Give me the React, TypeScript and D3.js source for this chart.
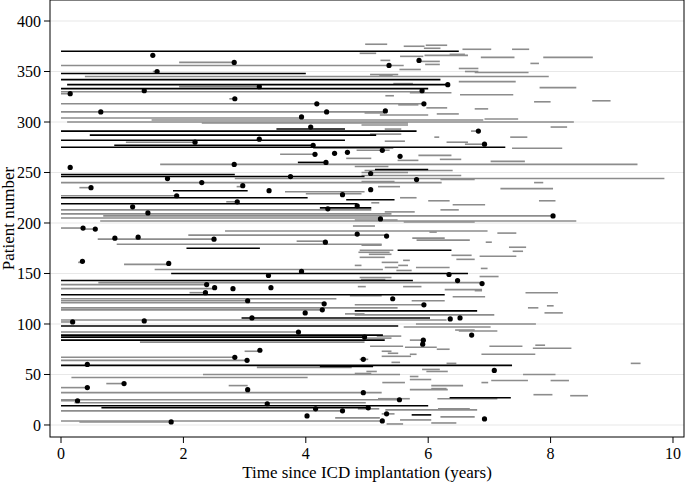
import React from "react";
import * as d3 from "d3";

// [patient, start (years), end (years)]
const blackSegs: number[][] = [
  [370, 0, 6.5], [348, 0, 4.0], [342, 0, 6.2], [337, 0.1, 6.32], [333, 0, 6.0],
  [293, 3.52, 4.64], [291, 0, 5.81], [287, 0.47, 5.15], [282, 0, 4.64], [277, 0.87, 4.12],
  [275, 0, 7.26], [260, 3.87, 4.33], [253, 5.13, 6.0], [248, 0, 2.84], [246, 0, 4.96],
  [232, 1.83, 3.05], [225, 0, 4.03], [223, 4.66, 5.45], [219, 0, 4.84], [215, 4.23, 5.07],
  [175, 2.05, 3.25], [173, 5.5, 6.38], [150, 1.8, 6.65], [143, 0, 5.75], [129, 0, 6.27],
  [113, 4.8, 6.8], [106, 2.95, 6.03], [98, 0, 5.51], [89, 0, 5.26], [87, 0, 4.96],
  [84, 0, 5.29], [59, 0, 7.37], [58, 4.23, 5.1], [27, 6.35, 7.35], [19, 0, 6.0],
  [17, 0.66, 5.02], [10, 5.73, 6.05],
];

const graySegs: number[][] = [
  [377, 4.97, 5.33], [376, 5.96, 6.31], [375, 5.6, 5.94], [373, 5.93, 6.2], [372, 6.56, 7.03],
  [372, 7.37, 7.65], [368, 4.88, 5.15], [367, 6.35, 6.6], [366, 5.94, 6.65], [365, 5.54, 5.92],
  [364, 6.86, 7.41], [364, 7.88, 8.69], [361, 5.22, 5.38], [360, 5.85, 6.19], [359, 1.93, 2.83],
  [358, 7.67, 7.81], [357, 5.95, 6.19], [356, 0, 5.6], [353, 6.5, 6.82], [352, 5.53, 5.88],
  [350, 1.5, 1.57], [350, 6.6, 6.82], [349, 6.76, 7.64], [347, 5.05, 5.51], [346, 5.2, 5.42],
  [345, 0.39, 7.97], [340, 6.5, 7.43], [338, 5.43, 5.75], [335, 1.93, 3.24], [334, 7.82, 8.42],
  [330, 0, 5.9], [329, 5.7, 6.38], [328, 0, 0.15], [327, 6.52, 7.39], [326, 5.3, 5.44],
  [323, 2.75, 2.84], [321, 8.68, 8.98], [320, 7.73, 8.0], [318, 0, 5.93], [317, 5.51, 5.84],
  [314, 5.97, 6.31], [313, 6.76, 6.98], [310, 0, 5.3], [309, 4.96, 5.29], [308, 6.14, 6.5],
  [307, 5.21, 6.0], [304, 0, 3.93], [303, 6.92, 7.47], [302, 1.48, 6.9], [300, 0.1, 8.38],
  [299, 2.3, 5.67], [297, 4.91, 5.67], [295, 8.0, 8.27], [293, 5.29, 5.56], [291, 6.7, 6.82],
  [288, 5.05, 5.56], [285, 6.1, 6.18], [285, 7.34, 7.62], [281, 5.29, 5.62], [280, 6.3, 6.65],
  [280, 1.06, 2.19], [278, 6.6, 6.92], [274, 4.12, 5.43], [274, 7.37, 8.19], [272, 4.83, 5.37],
  [268, 3.58, 4.15], [267, 5.84, 6.38], [264, 4.66, 5.07], [263, 6.19, 6.54], [262, 5.5, 5.84],
  [261, 7.02, 7.58], [258, 1.62, 9.42], [256, 4.8, 5.35], [252, 4.96, 6.4], [250, 4.91, 5.67],
  [247, 4.91, 6.54], [244, 2.84, 9.86], [243, 6.2, 6.76], [241, 4.91, 5.45], [240, 0, 6.22],
  [240, 7.73, 7.88], [236, 5.18, 5.54], [236, 2.87, 2.97], [235, 0.3, 0.49], [234, 7.18, 8.04],
  [231, 3.66, 4.96], [229, 4.0, 4.91], [227, 0, 1.89], [225, 5.54, 5.81], [222, 6.0, 6.35],
  [222, 7.81, 8.08], [221, 2.7, 2.88], [220, 5.07, 5.2], [218, 6.4, 6.93], [213, 0, 5.07],
  [213, 6.2, 6.5], [211, 5.29, 5.78], [209, 0, 5.4], [207, 0.69, 8.04], [205, 0, 5.22],
  [203, 4.8, 5.5], [202, 0.64, 8.42], [201, 5.6, 6.76],
  [197, 4.77, 5.13], [195, 0, 0.36], [194, 0.36, 0.56], [192, 2.68, 6.97], [191, 6.02, 6.14],
  [190, 7.13, 7.44], [188, 2.08, 5.32], [185, 5.74, 6.27], [184, 0.6, 2.5], [183, 5.81, 6.68],
  [182, 3.85, 4.32], [181, 6.94, 7.04], [179, 0.91, 5.24], [178, 4.91, 5.24], [176, 7.32, 7.6],
  [173, 4.88, 5.43], [172, 7.38, 7.55], [171, 4.86, 5.37], [169, 5.03, 5.4], [168, 6.38, 6.71],
  [167, 6.84, 7.44], [166, 4.88, 5.29], [164, 6.46, 6.76], [163, 5.59, 5.7], [161, 0.28, 0.35],
  [161, 5.24, 5.51], [159, 1.03, 1.76], [158, 5.51, 5.67], [158, 4.8, 4.91], [156, 5.8, 6.35],
  [156, 5.29, 5.51], [155, 6.86, 6.97], [154, 1.53, 5.26], [153, 5.48, 5.73], [147, 6.84, 7.15],
  [146, 4.88, 5.4], [144, 4.9, 5.3], [141, 0.61, 6.88], [139, 0, 2.38], [137, 4.85, 4.98],
  [137, 5.59, 5.89], [135, 0, 2.51], [134, 6.27, 6.88], [133, 6.76, 6.88], [131, 2.1, 2.36],
  [131, 7.59, 8.12], [128, 4.72, 5.24], [127, 6.4, 6.93], [125, 0, 4.5], [123, 0, 3.05],
  [123, 5.73, 6.27], [121, 0, 4.3], [119, 4.8, 5.93], [118, 7.94, 8.05], [116, 0, 5.5],
  [116, 7.63, 7.8], [114, 0, 4.27], [111, 7.9, 8.2], [110, 4.64, 4.96], [109, 4.8, 7.08],
  [104, 0, 6.3], [102, 0, 0.19], [100, 5.8, 7.76], [97, 5.6, 7.02], [93, 6.5, 7.13],
  [92, 0, 3.89],
  [94, 6.44, 6.76], [88, 5.16, 5.56], [86, 4.96, 5.4], [84, 5.7, 5.92], [82, 1.29, 4.96],
  [79, 7.75, 7.91], [78, 5.05, 5.59], [78, 7.0, 7.54], [77, 5.62, 6.14], [76, 7.71, 8.34],
  [75, 6.14, 6.35], [73, 5.24, 5.4], [73, 3.0, 3.25], [71, 5.34, 5.51], [70, 6.87, 7.75],
  [70, 5.7, 5.81], [68, 5.24, 5.72], [67, 0, 2.84], [65, 4.88, 5.02], [64, 0, 3.04],
  [62, 5.4, 5.54], [61, 6.3, 6.46], [61, 9.31, 9.47], [57, 3.2, 4.75], [55, 5.9, 6.19],
  [53, 5.97, 6.32], [53, 4.99, 5.16], [51, 4.8, 5.07], [50, 2.32, 5.54], [50, 7.55, 8.08],
  [48, 5.7, 5.84], [47, 0.17, 4.03], [45, 5.7, 6.05], [44, 8.0, 8.3], [44, 7.03, 7.63],
  [42, 5.25, 5.62], [42, 6.87, 6.98], [41, 0.74, 1.03], [39, 2.74, 3.05], [39, 6.05, 6.57],
  [37, 0, 0.43], [36, 6.05, 6.3], [35, 5.7, 6.32], [32, 0, 5.24], [30, 7.72, 8.03],
  [29, 8.32, 8.61], [26, 6.15, 7.13], [26, 5.18, 5.7], [25, 0, 5.53], [24, 0, 0.27],
  [22, 0.22, 4.98], [16, 6.16, 6.68], [16, 4.85, 5.2], [14, 0, 4.6], [15, 5.3, 6.8],
  [11, 5.24, 5.45], [8, 6.2, 6.76], [7, 4.48, 5.21], [5, 5.54, 6.05], [4, 0, 5.25],
  [3, 0.3, 1.8], [2, 6.05, 6.46], [1, 5.32, 5.59],
];

// [patient, time of event]
const events: number[][] = [
  [366, 1.5], [359, 2.83], [350, 1.57], [356, 5.36], [361, 5.85], [337, 6.32], [335, 3.24],
  [331, 1.36], [331, 5.9], [328, 0.15], [323, 2.84], [318, 4.18], [318, 5.93], [310, 0.65],
  [310, 4.34], [311, 5.3], [305, 3.93],
  [295, 4.08], [291, 6.82], [283, 3.24], [280, 2.19], [278, 6.92], [277, 4.12], [272, 5.25],
  [268, 4.15], [269, 4.47], [270, 4.68], [266, 5.54], [260, 4.33], [258, 2.83], [255, 0.15],
  [249, 5.06], [246, 3.75], [244, 1.74], [243, 5.81], [240, 2.3], [237, 2.97], [235, 0.49],
  [233, 5.06], [232, 3.4], [228, 4.6], [227, 1.89], [221, 2.88], [217, 4.84], [216, 1.17],
  [214, 4.36], [210, 1.42], [207, 8.04], [204, 5.22],
  [195, 0.36], [194, 0.56], [189, 4.84], [187, 5.32], [186, 1.26], [185, 0.88], [184, 2.5],
  [181, 4.32], [162, 0.35], [160, 1.76], [152, 3.93], [148, 3.39], [149, 6.34], [143, 6.48],
  [140, 6.88], [139, 2.38], [136, 2.51], [136, 3.43], [135, 2.81], [131, 2.36], [125, 5.42],
  [123, 3.05], [120, 4.3], [119, 5.93], [114, 4.27], [111, 3.99], [106, 3.12], [105, 6.36],
  [106, 6.52], [103, 1.36], [102, 0.19], [92, 3.88],
  [89, 6.71], [87, 4.96], [84, 5.92], [80, 5.91], [74, 3.25], [67, 2.84], [65, 4.94],
  [64, 3.04], [60, 0.43], [54, 7.08], [41, 1.03], [37, 0.43], [35, 3.05], [32, 4.94],
  [25, 5.53], [24, 0.27], [21, 3.37], [17, 5.02], [16, 4.16], [14, 4.6], [11, 5.32],
  [9, 4.02], [6, 6.92], [4, 5.25], [3, 1.8],
];

const xTicks = [0, 2, 4, 6, 8, 10];
const yTicks = [0, 50, 100, 150, 200, 250, 300, 350, 400];

const App = () => {
  const width = 685;
  const height = 485;
  const plot = { left: 50, right: 684, top: 0, bottom: 437 };
  const font = "'Liberation Serif', 'Times New Roman', serif";

  const x = d3.scaleLinear().domain([-0.18, 10.18]).range([plot.left, plot.right]);
  const y = d3.scaleLinear().domain([-11.9, 420.8]).range([plot.bottom, plot.top]);

  return (
    <svg
      width={width}
      height={height}
      style={{ position: "absolute", left: 0, top: 0, background: "#fff" }}
    >
      {/* grid */}
      {yTicks.map((t) => (
        <line key={"g" + t} x1={plot.left} x2={plot.right} y1={y(t)} y2={y(t)} stroke="#e8e8e8" strokeWidth={1.2} />
      ))}

      {graySegs.map((d, i) => (
        <line key={"s" + i} x1={x(d[1])} x2={x(d[2])} y1={y(d[0])} y2={y(d[0])} stroke="#8c8c8c" strokeWidth={1.6} />
      ))}
      {blackSegs.map((d, i) => (
        <line key={"b" + i} x1={x(d[1])} x2={x(d[2])} y1={y(d[0])} y2={y(d[0])} stroke="#000" strokeWidth={1.6} />
      ))}
      {events.map((d, i) => (
        <circle key={"e" + i} cx={x(d[1])} cy={y(d[0])} r={2.6} fill="#000" />
      ))}

      {/* frame */}
      <rect
        x={plot.left}
        y={plot.top}
        width={plot.right - plot.left}
        height={plot.bottom - plot.top}
        fill="none"
        stroke="#000"
        strokeWidth={1}
      />

      {/* x axis */}
      {xTicks.map((t) => (
        <g key={"x" + t} transform={`translate(${x(t)},${plot.bottom})`}>
          <line y2={6} stroke="#000" />
          <text y={22} textAnchor="middle" fontFamily={font} fontSize={16}>
            {t}
          </text>
        </g>
      ))}
      <text x={(plot.left + plot.right) / 2} y={478} textAnchor="middle" fontFamily={font} fontSize={17}>
        Time since ICD implantation (years)
      </text>

      {/* y axis */}
      {yTicks.map((t) => (
        <g key={"y" + t} transform={`translate(${plot.left},${y(t)})`}>
          <line x2={-6} stroke="#000" />
          <text x={-9} dy="0.35em" textAnchor="end" fontFamily={font} fontSize={16}>
            {t}
          </text>
        </g>
      ))}
      <text
        transform={`translate(14,${(plot.top + plot.bottom) / 2}) rotate(-90)`}
        textAnchor="middle"
        fontFamily={font}
        fontSize={17}
      >
        Patient number
      </text>
    </svg>
  );
};

export default App;
